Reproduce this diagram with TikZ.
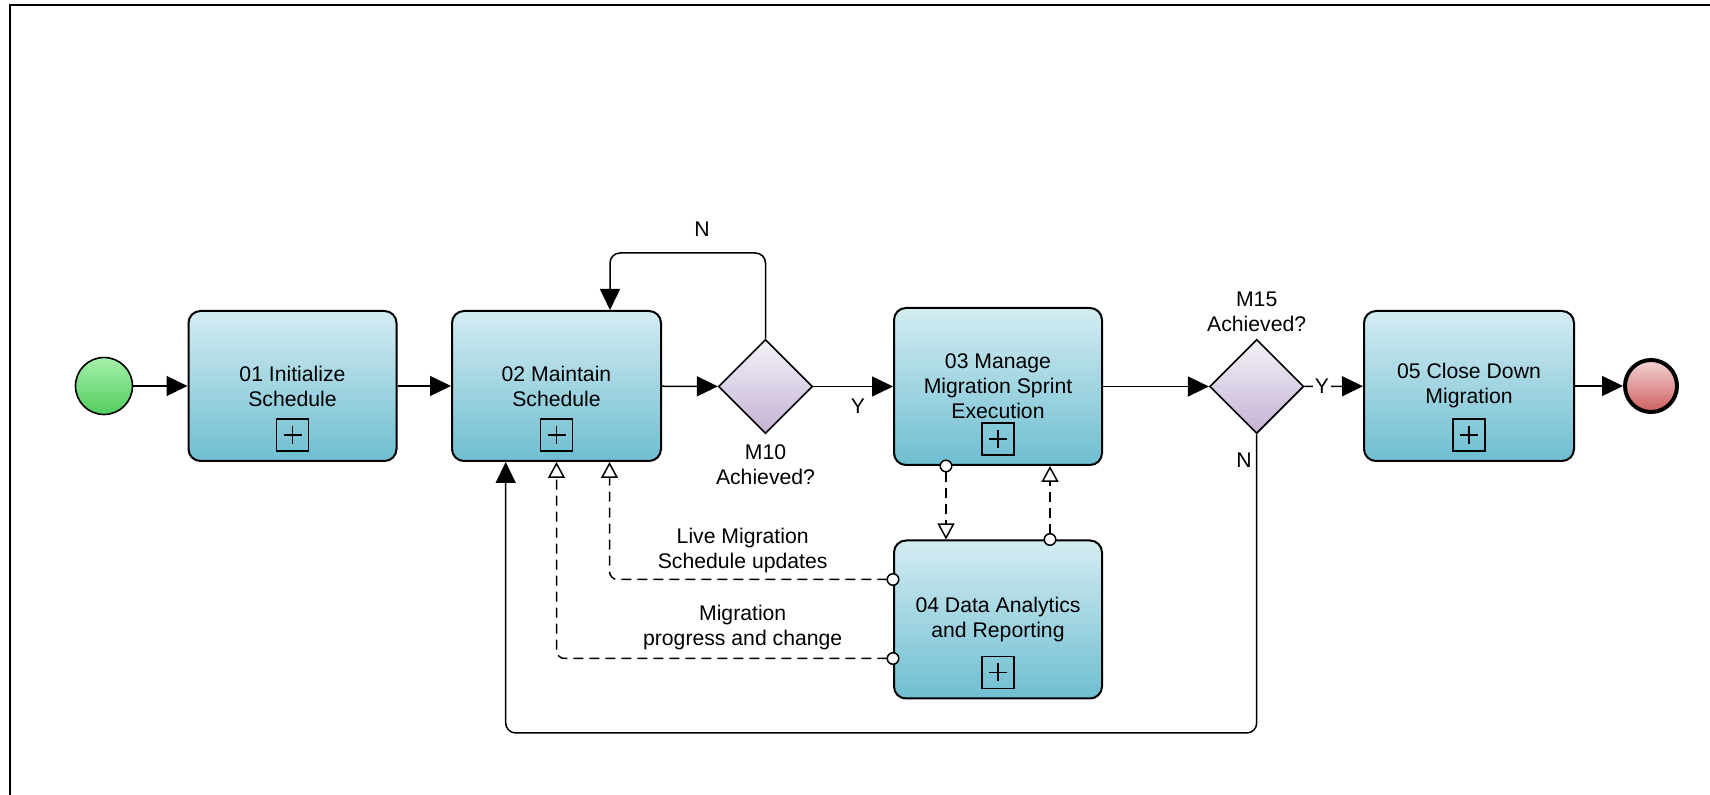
\documentclass[tikz,border=0pt]{standalone}
\usepackage{fontspec}
\setmainfont{Liberation Sans}
\usetikzlibrary{shapes.geometric,arrows.meta,calc}
\definecolor{taskTop}{RGB}{212,236,242}
\definecolor{taskBot}{RGB}{110,190,209}
\definecolor{gwTop}{RGB}{243,241,247}
\definecolor{gwBot}{RGB}{196,178,212}
\definecolor{startTop}{RGB}{165,240,170}
\definecolor{startBot}{RGB}{82,205,95}
\definecolor{endTop}{RGB}{245,212,212}
\definecolor{endBot}{RGB}{205,95,95}
\begin{document}
\begin{tikzpicture}[x=0.5pt,y=-0.5pt,
  font=\fontsize{10.6}{12.5}\selectfont,
  task/.style={draw=black, line width=1pt, rounded corners=6pt, minimum width=104pt,
    minimum height=75pt, align=center, top color=taskTop, bottom color=taskBot, inner sep=2pt},
  plusbox/.style={draw, line width=0.8pt, minimum size=16pt, inner sep=0pt,
    path picture={\draw[line width=0.6pt]
      ([xshift=-4.5pt]path picture bounding box.center) -- ([xshift=4.5pt]path picture bounding box.center)
      ([yshift=-4.5pt]path picture bounding box.center) -- ([yshift=4.5pt]path picture bounding box.center);}},
  gateway/.style={diamond, draw, line width=0.8pt, minimum width=47pt, minimum height=47pt,
    inner sep=0pt, top color=gwTop, bottom color=gwBot},
  flow/.style={line width=0.75pt, -{Triangle[length=10.5pt,width=10pt]}},
  msg/.style={line width=0.75pt, dash pattern=on 5pt off 3pt,
    {Circle[open,length=6.5pt,width=6.5pt,fill=white]}-{Triangle[open,length=8pt,width=8.5pt,fill=white]},
    shorten <=-3.25pt, rounded corners=4pt},
  lbl/.style={inner sep=0pt, align=center}
]
\useasboundingbox (0,0) rectangle (1710,795);
\draw[line width=1pt] (10,795) -- (10,5) -- (1710,5);

% events
\node[circle, draw, line width=0.8pt, minimum size=28.5pt, inner sep=0pt,
  top color=startTop, bottom color=startBot] (start) at (104,386) {};
\node[circle, draw, line width=2pt, minimum size=26pt, inner sep=0pt,
  top color=endTop, bottom color=endBot] (endev) at (1651,386) {};

% tasks
\node[task] (t1) at (292.5,386) {01 Initialize\\Schedule};
\node[task, minimum width=104.5pt] (t2) at (556.5,386) {02 Maintain\\Schedule};
\node[task, minimum height=78.5pt] (t3) at (998,386.5) {03 Manage\\Migration Sprint\\Execution};
\node[task, minimum height=79pt] (t4) at (998,619.5) {04 Data Analytics\\and Reporting};
\node[task, minimum width=105pt] (t5) at (1469,386) {05 Close Down\\Migration};

\node[plusbox] (p1) at ([yshift=13.5pt]t1.south) {};
\node[plusbox] (p2) at ([yshift=13.5pt]t2.south) {};
\node[plusbox] (p3) at ([yshift=13.5pt]t3.south) {};
\node[plusbox] (p4) at ([yshift=13.5pt]t4.south) {};
\node[plusbox] (p5) at ([yshift=13.5pt]t5.south) {};

% gateways
\node[gateway] (g1) at (765.5,386.5) {};
\node[gateway] (g2) at (1256.7,386.5) {};
\node[lbl, anchor=north] (g1l) at ([yshift=-5pt]g1.south) {M10\\Achieved?};
\node[lbl, anchor=south] (g2l) at ([yshift=3.5pt]g2.north) {M15\\Achieved?};

% sequence flows
\draw[flow] (start) -- (t1);
\draw[flow] (t1) -- (t2);
\draw[flow] (t2) -- (g1);
\draw[flow] (g1) -- node[lbl, below=6pt, pos=0.56] (y1) {Y} (t3);
\draw[flow] (t3) -- (g2);
\draw[flow] (g2) -- node[lbl, fill=white, inner sep=1pt, pos=0.3] (y2) {Y} (t5);
\draw[flow] (t5) -- (endev);

\coordinate (loopL) at (610,253);
\draw[flow, rounded corners=5pt] (g1.north) |- (loopL) -- (loopL |- t2.north);
\node[lbl] (n1) at (702,229) {N};

\draw[flow, rounded corners=5pt] (g2.south) -- (g2.south |- 0,733) -| ([xshift=-25.4pt]t2.south);
\node[lbl, anchor=east] (n2) at (1252,460) {N};

% message flows
\draw[msg] (t4.west |- 0,579.5) -| ([xshift=26.5pt]t2.south);
\node[lbl] (m1) at (742.7,551) {Live Migration\\Schedule updates};
\draw[msg] (t4.west |- 0,658.5) -| (t2.south);
\node[lbl] (m2) at (742.7,627.5) {Migration\\progress and change};
\draw[msg] ([xshift=-26pt]t3.south) -- ([xshift=-26pt]t4.north);
\draw[msg] ([xshift=26pt]t4.north) -- ([xshift=26pt]t3.south);
\end{tikzpicture}
\end{document}
